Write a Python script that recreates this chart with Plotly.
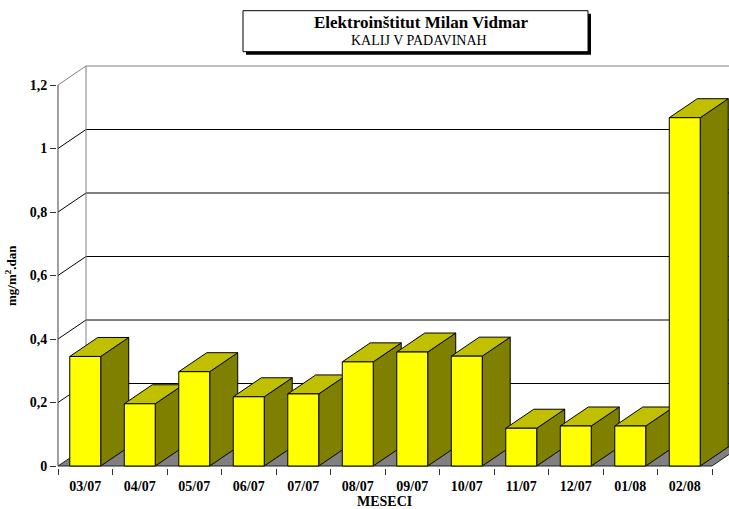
import plotly.graph_objects as go

# ---------------- data ----------------
categories = ["03/07", "04/07", "05/07", "06/07", "07/07", "08/07",
              "09/07", "10/07", "11/07", "12/07", "01/08", "02/08"]
values = [0.345, 0.196, 0.297, 0.218, 0.227, 0.328,
          0.359, 0.346, 0.119, 0.126, 0.126, 1.097]
y_tick_vals = [0, 0.2, 0.4, 0.6, 0.8, 1.0, 1.2]
y_tick_text = ["0", "0,2", "0,4", "0,6", "0,8", "1", "1,2"]
title_line1 = "Elektroinštitut Milan Vidmar"
title_line2 = "KALIJ V PADAVINAH"
y_title = "mg/m<sup>2</sup>.dan"
x_title = "MESECI"

# ---------------- geometry / style ----------------
W, H = 729, 509
ML, MR, MT, MB = 57, 0, 65, 41
PX_PER_CAT = 54.5
PX_PER_UNIT = 317.5
DX = 28 / PX_PER_CAT      # depth offset in x units
DY = 19 / PX_PER_UNIT     # depth offset in y units
HALF = 0.284              # half bar width
FONT = "Liberation Serif, Times New Roman, serif"
FRONT, TOP, SIDE = "#FFFF00", "#C0C000", "#808000"
FLOOR = "#808080"

n = len(categories)
x0 = -0.5 - 1 / PX_PER_CAT
x1 = x0 + (W - ML - MR) / PX_PER_CAT
y0 = -2 / PX_PER_UNIT
y1 = y0 + (H - MT - MB) / PX_PER_UNIT


def poly(xs, ys, fill, line="black", width=1):
    return go.Scatter(x=xs + [xs[0]], y=ys + [ys[0]], mode="lines",
                      fill="toself", fillcolor=fill,
                      line=dict(color=line, width=width),
                      hoverinfo="skip", showlegend=False)


def seg(xs, ys, color, width=1):
    return go.Scatter(x=xs, y=ys, mode="lines",
                      line=dict(color=color, width=width),
                      hoverinfo="skip", showlegend=False)


fig = go.Figure()

# back wall gridlines and top edge
for v in y_tick_vals[1:]:
    col = "#808080" if v == y_tick_vals[-1] else "black"
    fig.add_trace(seg([-0.5 + DX, n + 2], [v + DY, v + DY], col))
# side wall diagonals
for v in y_tick_vals[1:]:
    col = "#808080" if v == y_tick_vals[-1] else "black"
    fig.add_trace(seg([-0.5, -0.5 + DX], [v, v + DY], col))
# side wall vertical edge
fig.add_trace(seg([-0.5 + DX, -0.5 + DX], [DY, y_tick_vals[-1] + DY], "#808080"))

# floor
fig.add_trace(poly([-0.5, n - 0.5, n - 0.5 + DX, -0.5 + DX],
                   [0, 0, DY, DY], FLOOR, line="#202020"))

# front y-axis line
fig.add_trace(seg([-0.5, -0.5], [0, y_tick_vals[-1]], "#404040"))

# bars
for i, v in enumerate(values):
    l, r = i - HALF, i + HALF
    fig.add_trace(poly([r, r, r + DX, r + DX], [0, v, v + DY, DY], SIDE))
    fig.add_trace(poly([l, r, r + DX, l + DX], [v, v, v + DY, v + DY], TOP))
    fig.add_trace(poly([l, r, r, l], [0, 0, v, v], FRONT))


def px2paper(px, py):
    return ((px - ML) / (W - ML - MR), (H - MB - py) / (H - MT - MB))


# title box with shadow
bx0, by0 = px2paper(243, 10.7)
bx1, by1 = px2paper(588, 51.7)
sx0, sy0 = px2paper(246, 13.7)
sx1, sy1 = px2paper(591, 54.7)
shapes = [
    dict(type="rect", xref="paper", yref="paper", x0=sx0, x1=sx1, y0=sy1, y1=sy0,
         fillcolor="black", line=dict(width=0), layer="above"),
    dict(type="rect", xref="paper", yref="paper", x0=bx0, x1=bx1, y0=by1, y1=by0,
         fillcolor="white", line=dict(color="black", width=1), layer="above"),
]

t1x, t1y = px2paper(421, 22)
t2x, t2y = px2paper(419, 40.5)
ytx, yty = px2paper(11, 275)
xtx, xty = px2paper(384, 502)
annotations = [
    dict(text="<b>" + title_line1 + "</b>", x=t1x, y=t1y, xref="paper", yref="paper",
         showarrow=False, font=dict(family=FONT, size=17, color="black"),
         xanchor="center", yanchor="middle"),
    dict(text=title_line2, x=t2x, y=t2y, xref="paper", yref="paper",
         showarrow=False, font=dict(family=FONT, size=14, color="black"),
         xanchor="center", yanchor="middle"),
    dict(text="<b>" + y_title + "</b>", x=ytx, y=yty, xref="paper", yref="paper",
         showarrow=False, textangle=-90, font=dict(family=FONT, size=13, color="black"),
         xanchor="center", yanchor="middle"),
    dict(text="<b>" + x_title + "</b>", x=xtx, y=xty, xref="paper", yref="paper",
         showarrow=False, font=dict(family=FONT, size=14, color="black"),
         xanchor="center", yanchor="middle"),
]

fig.update_layout(
    width=W, height=H,
    margin=dict(l=ML, r=MR, t=MT, b=MB, pad=0),
    paper_bgcolor="white", plot_bgcolor="white",
    showlegend=False,
    shapes=shapes, annotations=annotations,
    xaxis=dict(range=[x0, x1], showgrid=False, zeroline=False, showline=False,
               tickmode="array", tickvals=list(range(n)),
               ticktext=["<b>" + c + "</b>" for c in categories],
               ticks="", ticklabelstandoff=8,
               tickfont=dict(family=FONT, size=14, color="black"),
               minor=dict(tickmode="array",
                          tickvals=[k - 0.5 for k in range(n + 1)],
                          ticks="outside", ticklen=6, tickcolor="#303030",
                          showgrid=False),
               fixedrange=True),
    yaxis=dict(range=[y0, y1], showgrid=False, zeroline=False, showline=False,
               tickmode="array", tickvals=y_tick_vals,
               ticktext=["<b>" + t + "</b>" for t in y_tick_text],
               ticks="outside", ticklen=6, tickcolor="#303030",
               tickfont=dict(family=FONT, size=14, color="black"),
               fixedrange=True),
)

fig.write_html("out.html", config={"displayModeBar": False},
               post_script="document.body.style.margin='0';")
